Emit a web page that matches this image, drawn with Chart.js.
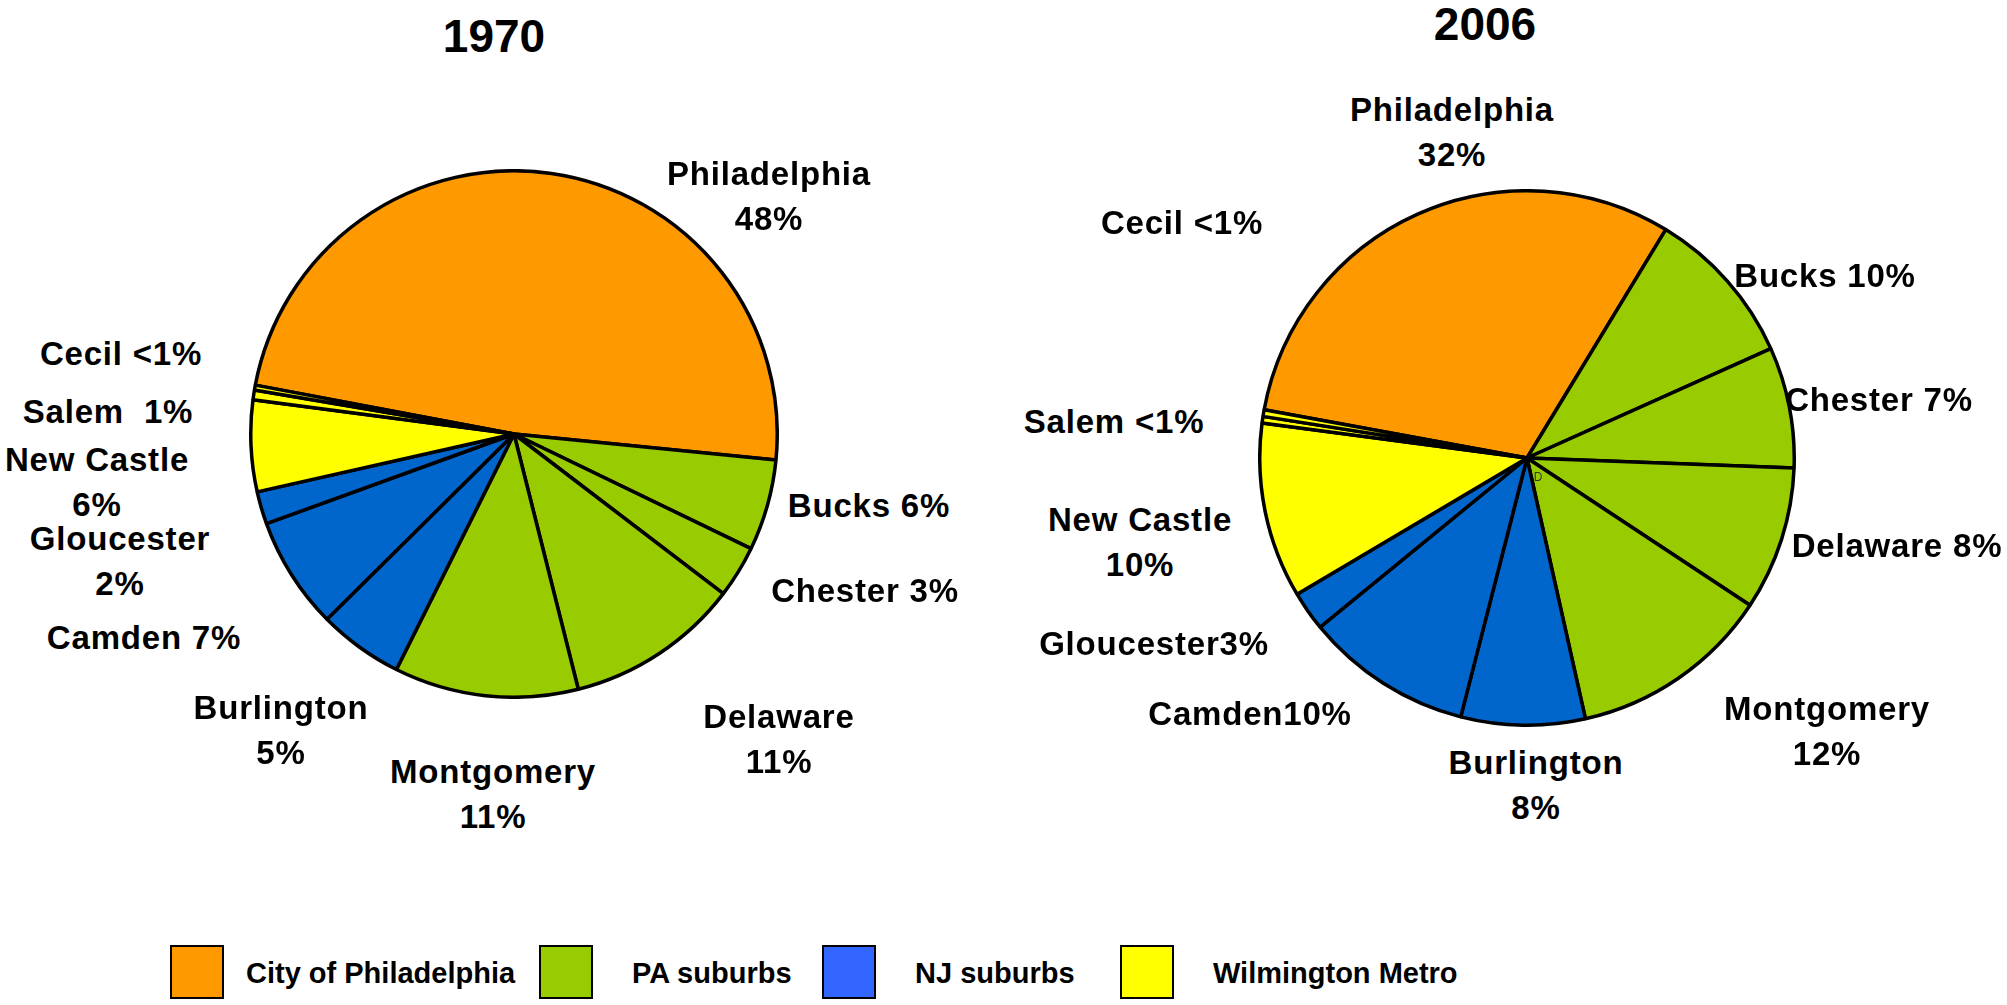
<!DOCTYPE html>
<html>
<head>
<meta charset="utf-8">
<title>Philadelphia region shares 1970 vs 2006</title>
<script src="https://cdn.jsdelivr.net/npm/chart.js@4.4.1/dist/chart.umd.min.js"></script>
<style>
  html, body { margin: 0; padding: 0; background: #fff; }
  body { width: 2007px; height: 1005px; position: relative; overflow: hidden;
         font-family: "Liberation Sans", Arial, Helvetica, sans-serif; font-weight: bold; color: #000; }
  .title { position: absolute; font-size: 46px; line-height: 52px; transform: translate(-50%, -50%); white-space: nowrap; }
  .lbl { position: absolute; font-size: 33px; line-height: 45px; letter-spacing: 0.8px; text-align: center; transform: translate(-50%, -50%); white-space: pre; }
  .pie { position: absolute; }
  .sw { position: absolute; width: 50px; height: 50px; border: 2px solid #000; }
  .lg { position: absolute; font-size: 29px; line-height: 34px; transform: translateY(-50%); white-space: nowrap; }
  .tiny { position: absolute; font-size: 12px; font-weight: normal; color: #333; transform: translate(-50%, -50%); }
</style>
</head>
<body>
<script>
// data
const counties = ['Philadelphia', 'Bucks', 'Chester', 'Delaware', 'Montgomery',
                  'Burlington', 'Camden', 'Gloucester', 'New Castle', 'Salem', 'Cecil'];
const countyGroup = [0, 1, 1, 1, 1, 2, 2, 2, 3, 3, 3];
const groups = ['City of Philadelphia', 'PA suburbs', 'NJ suburbs', 'Wilmington Metro'];

const share1970 = [48.6, 5.6, 3.2, 10.7, 11.3, 5.2, 6.9, 2.0, 5.6, 0.6, 0.3];
const share2006 = [30.8, 9.6, 7.3, 8.7, 12.2, 7.5, 10.1, 2.4, 10.6, 0.4, 0.4];
const pct1970 = ['48%', '6%', '3%', '11%', '11%', '5%', '7%', '2%', '6%', '1%', '<1%'];
const pct2006 = ['32%', '10%', '7%', '8%', '12%', '8%', '10%', '3%', '10%', '<1%', '<1%'];

// colours
const pieColors = ['#FF9900', '#99CC00', '#0066CC', '#FFFF00'];
const legendColors = ['#FF9900', '#99CC00', '#3366FF', '#FFFF00'];

// layout (label block centres and separators between name and percent)
const layout1970 = {
  title: '1970', tx: 494, ty: 36,
  cx: 514, cy: 434, r: 263, rotation: -79.3,
  labels: [
    [769, 196, '\n'], [869, 505, ' '], [865, 590, ' '], [779, 739, '\n'], [493, 794, '\n'],
    [281, 730, '\n'], [144, 637, ' '], [120, 561, '\n'], [97, 482, '\n'], [108, 411, '  '], [121, 353, ' ']
  ]
};
const layout2006 = {
  title: '2006', tx: 1485, ty: 24,
  cx: 1527, cy: 458, r: 267, rotation: -79.6,
  labels: [
    [1452, 132, '\n'], [1825, 275, ' '], [1879, 399, ' '], [1897, 545, ' '], [1827, 731, '\n'],
    [1536, 785, '\n'], [1250, 713, ''], [1154, 643, ''], [1140, 542, '\n'], [1114, 421, ' '], [1182, 222, ' ']
  ]
};

const BW = 3.5;

function addDiv(cls, text, x, y) {
  const d = document.createElement('div');
  d.className = cls;
  d.textContent = text;
  d.style.left = x + 'px';
  d.style.top = y + 'px';
  document.body.appendChild(d);
  return d;
}

function drawPie(values, pcts, lay) {
  addDiv('title', lay.title, lay.tx, lay.ty);

  const size = Math.round(2 * lay.r + BW);
  const canvas = document.createElement('canvas');
  canvas.className = 'pie';
  canvas.width = size;
  canvas.height = size;
  canvas.style.width = size + 'px';
  canvas.style.height = size + 'px';
  canvas.style.left = (lay.cx - size / 2) + 'px';
  canvas.style.top = (lay.cy - size / 2) + 'px';
  document.body.appendChild(canvas);

  new Chart(canvas, {
    type: 'pie',
    data: {
      labels: counties,
      datasets: [{
        data: values,
        backgroundColor: countyGroup.map(g => pieColors[g]),
        borderColor: '#000',
        borderWidth: BW
      }]
    },
    options: {
      responsive: false,
      devicePixelRatio: 1,
      animation: false,
      rotation: lay.rotation,
      layout: { padding: 0 },
      plugins: { legend: { display: false }, tooltip: { enabled: false } }
    }
  });

  counties.forEach((name, i) => {
    const [x, y, sep] = lay.labels[i];
    addDiv('lbl', name + sep + pcts[i], x, y);
  });
}

drawPie(share1970, pct1970, layout1970);
drawPie(share2006, pct2006, layout2006);
addDiv('tiny', 'D', 1538, 477);

// legend
const swatchX = [170, 539, 822, 1120];
const textX = [246, 632, 915, 1213];
groups.forEach((g, i) => {
  const s = addDiv('sw', '', swatchX[i], 945);
  s.style.background = legendColors[i];
  addDiv('lg', g, textX[i], 973);
});
</script>
</body>
</html>
